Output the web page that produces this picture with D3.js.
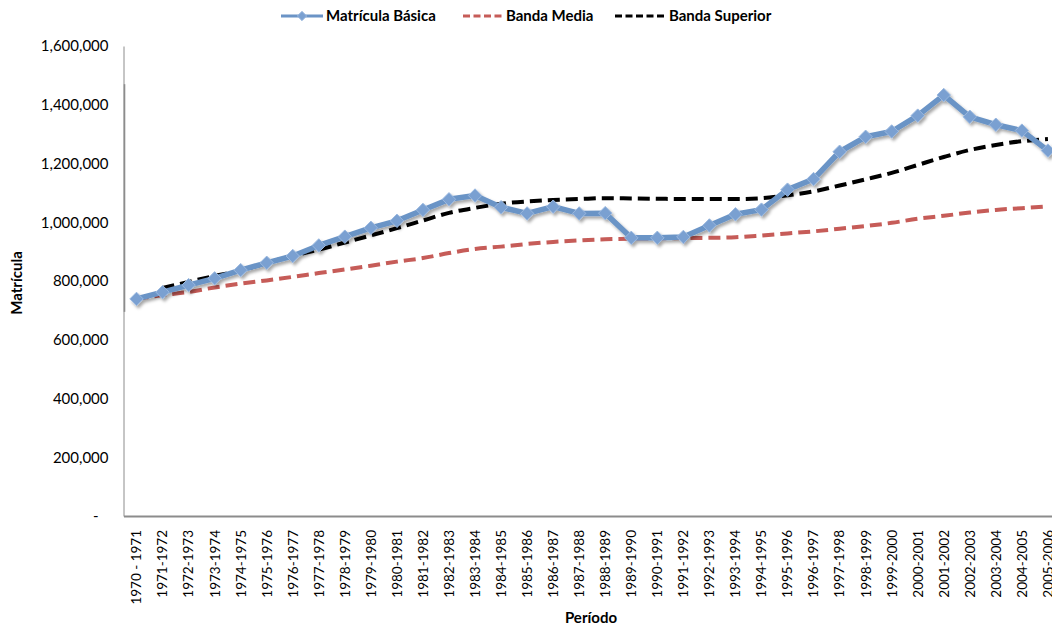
<!DOCTYPE html>
<html>
<head>
<meta charset="utf-8">
<script src="https://cdn.jsdelivr.net/npm/d3@7"></script>
<style>
  html, body { margin: 0; padding: 0; background: #fff; }
  svg { display: block; }
  text { font-family: Lato, "Open Sans", sans-serif; fill: #000; }
</style>
</head>
<body>
<svg id="chart" width="1052" height="628"></svg>
<script>
// Periodos escolares
const categories = [
  "1970 - 1971", "1971-1972", "1972-1973", "1973-1974", "1974-1975", "1975-1976",
  "1976-1977", "1977-1978", "1978-1979", "1979-1980", "1980-1981", "1981-1982",
  "1982-1983", "1983-1984", "1984-1985", "1985-1986", "1986-1987", "1987-1988",
  "1988-1989", "1989-1990", "1990-1991", "1991-1992", "1992-1993", "1993-1994",
  "1994-1995", "1995-1996", "1996-1997", "1997-1998", "1998-1999", "1999-2000",
  "2000-2001", "2001-2002", "2002-2003", "2003-2004", "2004-2005", "2005-2006"
];

// Matrícula básica observada
const matriculaBasica = [
  739000, 762000, 786000, 809000, 837000, 862000, 885000, 921000, 951000, 981000,
  1005000, 1042000, 1078000, 1091000, 1051000, 1030000, 1053000, 1030000, 1031000, 947000,
  947000, 950000, 989000, 1027000, 1043000, 1111000, 1147000, 1240000, 1291000, 1309000,
  1363000, 1433000, 1359000, 1332000, 1312000, 1244000
];

// Banda media
const bandaMedia = [
  739000, 752000, 763000, 778000, 791000, 802000, 814000, 827000, 839000, 852000,
  866000, 878000, 895000, 909000, 917000, 926000, 933000, 938000, 942000, 944000,
  945000, 946000, 947000, 949000, 955000, 962000, 969000, 978000, 987000, 998000,
  1012000, 1022000, 1033000, 1042000, 1048000, 1054000
];

// Banda superior (comienza en 1971-1972)
const bandaSuperior = [
  null, 776000, 797000, 817000, 836000, 861000, 886000, 907000, 931000, 955000,
  980000, 1006000, 1032000, 1049000, 1063000, 1071000, 1076000, 1079000, 1082000, 1081000,
  1080000, 1079000, 1079000, 1079000, 1082000, 1092000, 1105000, 1125000, 1146000, 1168000,
  1195000, 1222000, 1246000, 1263000, 1276000, 1283000
];

const yTicks = [0, 200000, 400000, 600000, 800000, 1000000, 1200000, 1400000, 1600000];

const legendItems = [
  { name: "Matrícula Básica", key: "basica" },
  { name: "Banda Media", key: "media" },
  { name: "Banda Superior", key: "superior" }
];

const colors = { basica: "#6b94c6", marker: "#7aa0d1", markerEdge: "#9ab8df", media: "#c65c58", superior: "#000000" };

const svg = d3.select("#chart");

const plot = { left: 123.5, top: 46, bottom: 516, band: 26.04 };
plot.right = plot.left + plot.band * categories.length;

const x = d3.scaleBand().domain(categories).range([plot.left, plot.right]).paddingInner(0).paddingOuter(0);
const y = d3.scaleLinear().domain([0, 1600000]).range([plot.bottom, plot.top]);
const cx = c => x(c) + x.bandwidth() / 2;

// Sombra suave de la serie principal
const defs = svg.append("defs");
const shadow = defs.append("filter").attr("id", "sombra").attr("x", "-10%").attr("y", "-10%").attr("width", "120%").attr("height", "130%");
shadow.append("feDropShadow").attr("dx", 2).attr("dy", 2.5).attr("stdDeviation", 1.6)
  .attr("flood-color", "#000").attr("flood-opacity", 0.35);

// Eje Y
const yAxis = d3.axisLeft(y).tickValues(yTicks).tickSize(0).tickPadding(15)
  .tickFormat(d => d === 0 ? "-" : d3.format(",")(d));
const gy = svg.append("g").attr("transform", `translate(${plot.left},0)`).call(yAxis);
gy.select(".domain").attr("stroke", "#8c8c8c").attr("stroke-width", 1);
gy.selectAll(".tick text").attr("font-size", 15).attr("font-family", "Lato, sans-serif");
gy.selectAll(".tick").filter(d => d === 0).select("text").attr("dx", -10);
svg.append("line")
  .attr("x1", plot.left + 1).attr("x2", plot.left + 1)
  .attr("y1", y(1470000)).attr("y2", y(695000))
  .attr("stroke", "#8c8c8c").attr("stroke-width", 1.6);

// Eje X
const xAxis = d3.axisBottom(x).tickSize(0).tickPadding(0);
const gx = svg.append("g").attr("transform", `translate(0,${plot.bottom})`).call(xAxis);
gx.select(".domain").attr("stroke", "#8c8c8c").attr("stroke-width", 2);
gx.selectAll(".tick text")
  .attr("font-size", 13.5).attr("font-family", "Lato, sans-serif")
  .attr("text-anchor", "end")
  .attr("transform", "rotate(-90)")
  .attr("x", -14).attr("y", 0).attr("dy", "0.36em");

// Títulos de ejes
svg.append("text").attr("transform", `translate(17,${(plot.top + plot.bottom) / 2 + 2}) rotate(-90)`)
  .attr("text-anchor", "middle").attr("dy", "0.36em").attr("font-size", 15).attr("font-weight", "bold").text("Matrícula");
svg.append("text").attr("x", 591).attr("y", 623)
  .attr("text-anchor", "middle").attr("font-size", 15).attr("font-weight", "bold").text("Período");

// Bandas
const bandLine = d3.line()
  .defined(d => d.v != null)
  .x(d => cx(d.c)).y(d => y(d.v))
  .curve(d3.curveMonotoneX);

svg.append("path")
  .datum(categories.map((c, i) => ({ c, v: bandaMedia[i] })))
  .attr("d", bandLine).attr("fill", "none")
  .attr("stroke", colors.media).attr("stroke-width", 4).attr("stroke-dasharray", "12,6");

svg.append("path")
  .datum(categories.map((c, i) => ({ c, v: bandaSuperior[i] })))
  .attr("d", bandLine).attr("fill", "none")
  .attr("stroke", colors.superior).attr("stroke-width", 4).attr("stroke-dasharray", "12,6");

// Matrícula básica
const gBasica = svg.append("g").attr("filter", "url(#sombra)");
const basicaData = categories.map((c, i) => ({ c, v: matriculaBasica[i] }));
gBasica.append("path")
  .datum(basicaData)
  .attr("d", d3.line().x(d => cx(d.c)).y(d => y(d.v)))
  .attr("fill", "none").attr("stroke", colors.basica).attr("stroke-width", 5.5)
  .attr("stroke-linejoin", "round");

const diamond = d3.symbol().type(d3.symbolDiamond2).size(115);
gBasica.selectAll("path.marker")
  .data(basicaData).join("path")
  .attr("class", "marker")
  .attr("d", diamond)
  .attr("transform", d => `translate(${cx(d.c)},${y(d.v)})`)
  .attr("fill", colors.marker).attr("stroke", colors.markerEdge).attr("stroke-width", 1);

// Leyenda
const legendPos = [
  { x1: 281, x2: 323, tx: 326 },
  { x1: 463, x2: 504, tx: 506 },
  { x1: 615, x2: 667, tx: 669 }
];
const legendY = 16;
const lg = svg.append("g");
legendItems.forEach((item, i) => {
  const p = legendPos[i];
  const line = lg.append("line")
    .attr("x1", p.x1).attr("x2", p.x2).attr("y1", legendY).attr("y2", legendY)
    .attr("stroke-width", 3);
  if (item.key === "basica") {
    line.attr("stroke", colors.basica);
    lg.append("path").attr("d", d3.symbol().type(d3.symbolDiamond2).size(55))
      .attr("transform", `translate(${(p.x1 + p.x2) / 2},${legendY})`)
      .attr("fill", colors.marker).attr("stroke", colors.markerEdge);
  } else {
    line.attr("stroke", item.key === "media" ? colors.media : colors.superior)
      .attr("stroke-dasharray", "7,3.5");
  }
  lg.append("text").attr("x", p.tx).attr("y", legendY).attr("dy", "0.36em")
    .attr("font-size", 15).attr("font-weight", "bold").text(item.name);
});
</script>
</body>
</html>
